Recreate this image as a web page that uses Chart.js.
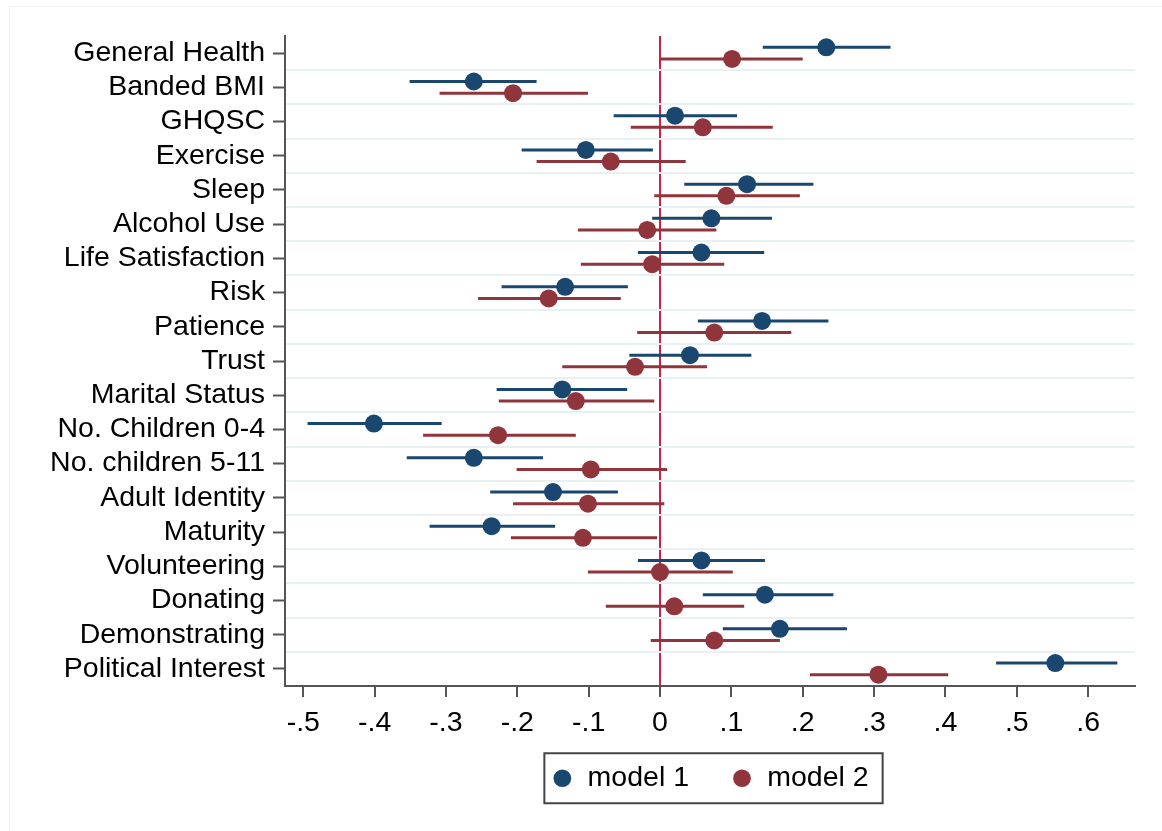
<!DOCTYPE html>
<html>
<head>
<meta charset="utf-8">
<title>Coefficient plot</title>
<script src="https://cdn.jsdelivr.net/npm/chart.js@4.4.1/dist/chart.umd.min.js"></script>
<style>
  html, body { margin: 0; padding: 0; background: #fff; }
  #wrap { position: relative; width: 1162px; height: 831px; overflow: hidden; }
  #frame { position: absolute; left: 9px; top: 6px; right: -5px; bottom: -5px; border: 1px solid #f0f0f0; pointer-events: none; }
</style>
</head>
<body>
<div id="wrap">
  <canvas id="coefChart" width="1162" height="831"></canvas>
  <div id="frame"></div>
</div>
<script>
  "use strict";

  // outcomes, top to bottom
  const categories = [
    "General Health", "Banded BMI", "GHQSC", "Exercise", "Sleep", "Alcohol Use",
    "Life Satisfaction", "Risk", "Patience", "Trust", "Marital Status",
    "No. Children 0-4", "No. children 5-11", "Adult Identity", "Maturity",
    "Volunteering", "Donating", "Demonstrating", "Political Interest"
  ];

  // model 1: point estimate and CI bounds
  const m1Coef = [0.233, -0.261, 0.021, -0.104, 0.122, 0.072, 0.058, -0.133, 0.143, 0.042, -0.137, -0.401, -0.261, -0.150, -0.236, 0.058, 0.147, 0.168, 0.554];
  const m1Lo   = [0.144, -0.351, -0.065, -0.194, 0.034, -0.011, -0.031, -0.222, 0.053, -0.043, -0.229, -0.494, -0.355, -0.238, -0.323, -0.031, 0.060, 0.088, 0.471];
  const m1Hi   = [0.323, -0.173, 0.108, -0.010, 0.215, 0.157, 0.146, -0.045, 0.236, 0.128, -0.046, -0.306, -0.164, -0.059, -0.147, 0.147, 0.243, 0.262, 0.641];

  // model 2
  const m2Coef = [0.101, -0.206, 0.060, -0.069, 0.093, -0.018, -0.011, -0.156, 0.076, -0.035, -0.118, -0.227, -0.097, -0.101, -0.108, 0.000, 0.020, 0.076, 0.306];
  const m2Lo   = [0.000, -0.309, -0.041, -0.173, -0.008, -0.115, -0.111, -0.255, -0.032, -0.137, -0.226, -0.332, -0.201, -0.206, -0.209, -0.101, -0.076, -0.013, 0.210];
  const m2Hi   = [0.200, -0.101, 0.158, 0.036, 0.196, 0.079, 0.090, -0.055, 0.184, 0.066, -0.008, -0.118, 0.010, 0.006, -0.004, 0.102, 0.118, 0.168, 0.404];

  const xTicks = [-0.5, -0.4, -0.3, -0.2, -0.1, 0, 0.1, 0.2, 0.3, 0.4, 0.5, 0.6];

  const navy = "#1a476f";
  const maroon = "#90353b";
  const axisGray = "#555555";
  const shift = 0.17; // vertical nudge of each model within a row

  Chart.defaults.font.family = "'Liberation Sans', Arial, sans-serif";
  Chart.defaults.font.size = 28.5;
  Chart.defaults.color = "#000";

  // Stata-style tick labels: -.5, 0, .1
  var fmtTick = function (v) {
    if (Math.abs(v) < 1e-9) return "0";
    return (v < 0 ? "-" : "") + Math.abs(v).toFixed(1).replace(/^0/, "");
  };

  var pointsFor = function (coef, dy) {
    return coef.map(function (c, i) { return { x: c, y: i + dy }; });
  };

  // CI segments in one dataset, broken by null points
  var ciFor = function (lo, hi, dy) {
    var out = [];
    lo.forEach(function (l, i) {
      out.push({ x: l, y: i + dy }, { x: hi[i], y: i + dy }, { x: null, y: null });
    });
    return out;
  };

  var legendBox = {
    id: "legendBox",
    // x axis is kept short so the legend sits close; let its labels draw below it
    afterLayout: function (chart) {
      var x = chart.scales.x;
      x.bottom = x.top + 70;
    },
    // frame round the legend
    afterDraw: function (chart) {
      var boxes = chart.legend && chart.legend.legendHitBoxes;
      if (!boxes || !boxes.length) return;
      var left = Math.min.apply(null, boxes.map(function (b) { return b.left; })) - 7;
      var right = Math.max.apply(null, boxes.map(function (b) { return b.left + b.width; })) + 14;
      var mid = boxes[0].top + boxes[0].height / 2;
      var ctx = chart.ctx;
      ctx.save();
      ctx.strokeStyle = "#444";
      ctx.lineWidth = 2;
      ctx.strokeRect(left, mid - 25, right - left, 50);
      ctx.restore();
    }
  };

  new Chart(document.getElementById("coefChart"), {
    type: "scatter",
    data: {
      datasets: [
        {
          label: "model 1",
          data: pointsFor(m1Coef, -shift),
          backgroundColor: navy,
          borderColor: navy,
          borderWidth: 0,
          pointRadius: 9,
          pointHoverRadius: 9
        },
        {
          label: "model 2",
          data: pointsFor(m2Coef, shift),
          backgroundColor: maroon,
          borderColor: maroon,
          borderWidth: 0,
          pointRadius: 9,
          pointHoverRadius: 9
        },
        {
          label: "ci1",
          data: ciFor(m1Lo, m1Hi, -shift),
          showLine: true,
          spanGaps: false,
          borderColor: navy,
          borderWidth: 3,
          pointRadius: 0
        },
        {
          label: "ci2",
          data: ciFor(m2Lo, m2Hi, shift),
          showLine: true,
          spanGaps: false,
          borderColor: maroon,
          borderWidth: 3,
          pointRadius: 0
        }
      ]
    },
    options: {
      responsive: false,
      animation: false,
      devicePixelRatio: 1,
      layout: { padding: { top: 36, right: 27, left: 0, bottom: 28.5 } },
      plugins: {
        tooltip: { enabled: false },
        legend: {
          position: "bottom",
          fullSize: false,
          labels: {
            usePointStyle: true,
            pointStyle: "circle",
            boxWidth: 22,
            boxHeight: 12.5,
            padding: 42,
            color: "#000",
            filter: function (item) { return item.datasetIndex < 2; }
          }
        }
      },
      scales: {
        x: {
          type: "linear",
          min: -0.5256,
          max: 0.6657,
          afterBuildTicks: function (s) { s.ticks = xTicks.map(function (v) { return { value: v }; }); },
          afterFit: function (s) { s.height = 36; },
          ticks: { callback: fmtTick, padding: 9, autoSkip: false, maxRotation: 0 },
          grid: {
            color: function (ctx) { return ctx.tick && Math.abs(ctx.tick.value) < 1e-9 ? "#cc1f4a" : "rgba(0,0,0,0)"; },
            lineWidth: 2,
            tickColor: axisGray,
            tickLength: 11,
            tickWidth: 2
          },
          border: { color: axisGray, width: 2 }
        },
        y: {
          type: "linear",
          reverse: true,
          min: -0.5,
          max: categories.length - 0.5,
          afterBuildTicks: function (s) { s.ticks = categories.map(function (_, i) { return { value: i }; }); },
          afterFit: function (s) { s.width = 285; },
          ticks: {
            callback: function (v, i) { return categories[i]; },
            padding: 8,
            autoSkip: false
          },
          grid: { drawOnChartArea: false, tickLength: 12, tickColor: axisGray, tickWidth: 2 },
          border: { color: axisGray, width: 2 }
        },
        yGrid: {
          type: "linear",
          position: "right",
          reverse: true,
          min: -0.5,
          max: categories.length - 0.5,
          afterBuildTicks: function (s) { s.ticks = categories.slice(1).map(function (_, i) { return { value: i + 0.5 }; }); },
          afterFit: function (s) { s.width = 0; },
          ticks: { display: false },
          grid: { color: "#e8f0f2", lineWidth: 2, drawTicks: false },
          border: { display: false }
        }
      }
    },
    plugins: [legendBox]
  });
</script>
</body>
</html>
